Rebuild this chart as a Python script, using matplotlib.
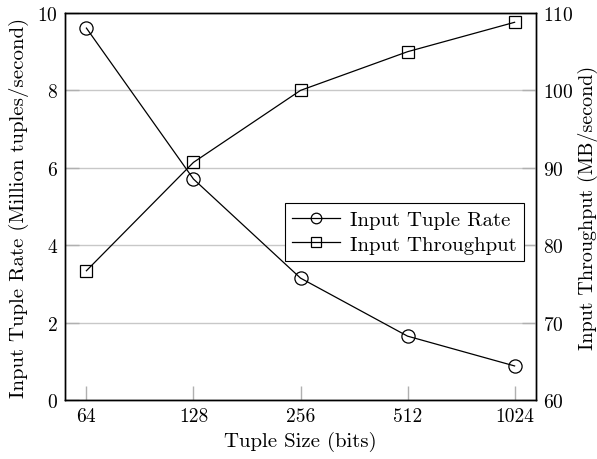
import numpy as np
import matplotlib
matplotlib.use("Agg")
import matplotlib.pyplot as plt

plt.rcParams["font.family"] = "cmr10"
plt.rcParams["axes.formatter.use_mathtext"] = True
plt.rcParams["font.size"] = 14.5

# data
tuple_sizes = [64, 128, 256, 512, 1024]
tuple_rate = [9.61, 5.71, 3.15, 1.65, 0.88]          # million tuples / second
throughput = [76.7, 90.7, 100.0, 105.0, 108.8]       # MB / second

fig = plt.figure(figsize=(5.97, 4.60), dpi=100)
ax = fig.add_axes([65 / 597, 59 / 460, 471 / 597, 387 / 460])
ax2 = ax.twinx()

x = np.log2(tuple_sizes)

ax.set_axisbelow(True)
ax.grid(axis="y", color="#c8c8c8", lw=1.0)
l1, = ax.plot(x, tuple_rate, color="black", lw=0.9, marker="o", ms=9.5,
              mfc="none", mec="black", mew=0.9, label="Input Tuple Rate")
l2, = ax2.plot(x, throughput, color="black", lw=0.9, marker="s", ms=9,
               mfc="none", mec="black", mew=0.9, label="Input Throughput")

ax.set_xlim(5.8, 10.2)
ax.set_ylim(0, 10)
ax2.set_ylim(60, 110)
ax.set_xticks(x)
ax.set_xticklabels([str(s) for s in tuple_sizes])
ax.set_yticks([0, 2, 4, 6, 8, 10])
ax2.set_yticks([60, 70, 80, 90, 100, 110])

for a in (ax, ax2):
    a.tick_params(direction="in", length=10, width=1.0, color="#b0b0b0",
                  pad=5, labelsize=14)
    for s in a.spines.values():
        s.set_linewidth(1.0)
ax.tick_params(axis="x", top=False)

ax.set_xlabel("Tuple Size (bits)", fontsize=15, labelpad=4)
ax.set_ylabel("Input Tuple Rate (Million tuples/second)", fontsize=15, labelpad=6)
ax2.set_ylabel("Input Throughput (MB/second)", fontsize=14.5, labelpad=3)

leg = ax2.legend(handles=[l1, l2], loc="center right",
                 bbox_to_anchor=(0.997, 0.434), fancybox=False,
                 framealpha=1, edgecolor="black", handlelength=2.3,
                 handletextpad=0.5, borderpad=0.35, labelspacing=0.3,
                 markerscale=0.8, fontsize=15)
leg.get_frame().set_linewidth(0.8)

fig.savefig("out.png", dpi=100)
